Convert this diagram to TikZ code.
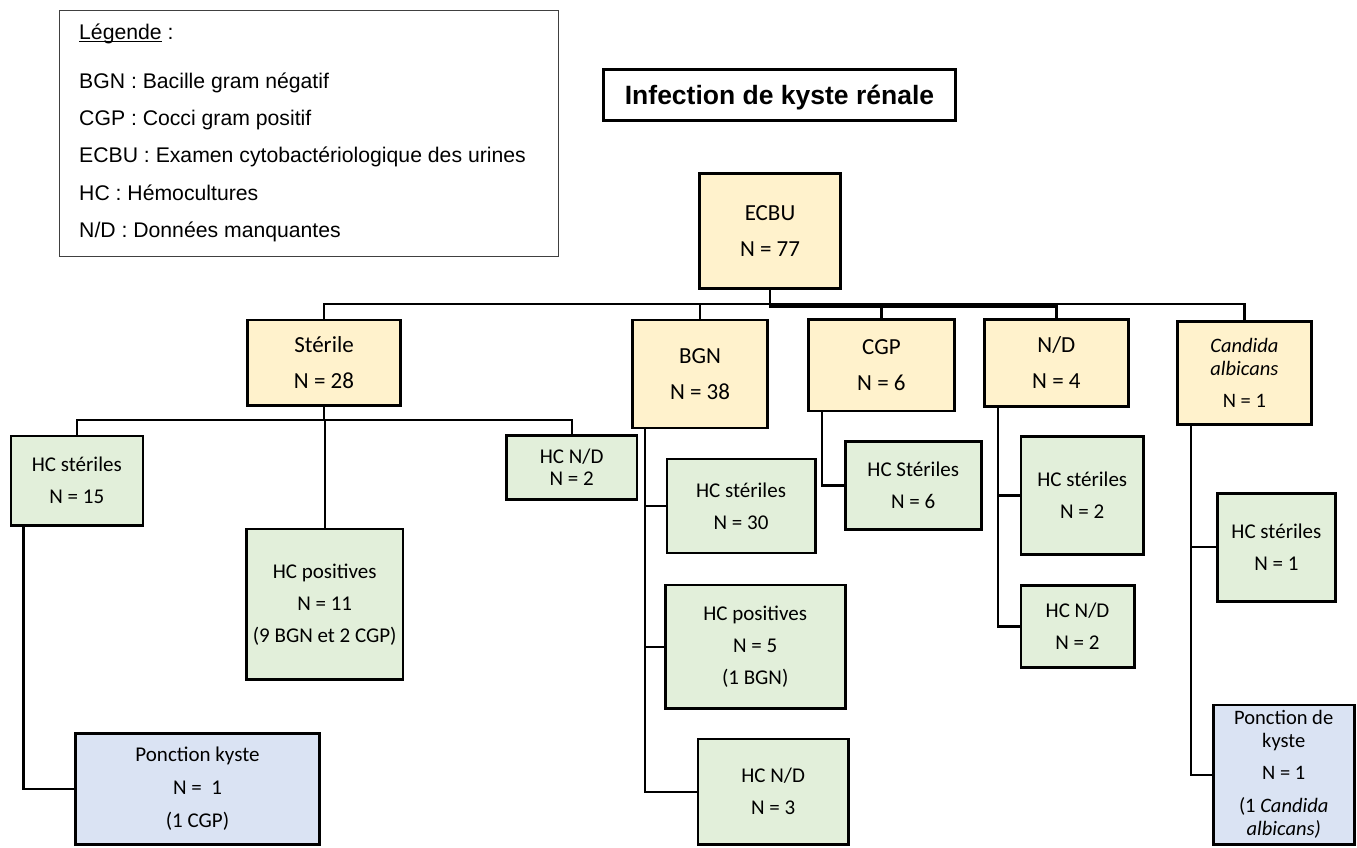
\documentclass[tikz,border=0pt]{standalone}
\usepackage{fontspec}
\setmainfont{Carlito}
\newfontfamily\arialf{Liberation Sans}
\definecolor{yelc}{HTML}{FFF2CC}
\definecolor{grnc}{HTML}{E2EFDA}
\definecolor{bluc}{HTML}{DAE3F3}
\definecolor{legc}{HTML}{404040}
\newcommand\myul[1]{\setbox0\hbox{#1}\rlap{\rule[-2.2pt]{\wd0}{1.3pt}}\box0\relax}
\begin{document}
\begin{tikzpicture}[x=1pt,y=-1pt,
  box/.style={draw=black, line width=2.6pt, inner sep=0pt, align=center, rectangle},
  sz/.style 2 args={minimum width=#1pt, minimum height=#2pt},
  yel/.style={box, fill=yelc, font=\fontsize{23}{36}\selectfont},
  grn/.style={box, fill=grnc, font=\fontsize{21}{32}\selectfont},
  blu/.style={box, fill=bluc, font=\fontsize{21}{33}\selectfont},
  leg/.style={inner sep=0pt, anchor=base west, font=\arialf\fontsize{21.2}{25}\selectfont},
  wire/.style={draw=black, line width=2.4pt}]
\useasboundingbox (0,0) rectangle (1357,848);

% legend
\node[draw=legc, line width=1.3pt, sz={499}{246}, inner sep=0pt] (legend) at (309,133.5) {};
\node[leg] (l1) at (79,40) {\myul{Légende} :};
\node[leg] (l2) at (79,89) {BGN : Bacille gram négatif};
\node[leg] (l3) at (79,126) {CGP : Cocci gram positif};
\node[leg] (l4) at (79,163) {ECBU : Examen cytobactériologique des urines};
\node[leg] (l5) at (79,200) {HC : Hémocultures};
\node[leg] (l6) at (79,237) {N/D : Données manquantes};

% title
\node[draw=black, line width=2.6pt, sz={352}{51}, inner sep=0pt, text depth=0pt,
      font=\arialf\bfseries\fontsize{26.5}{30}\selectfont] (title) at (779.5,95) {Infection de kyste rénale};

% level 0 and 1
\node[yel, sz={141}{115}] (ecbu) at (770,231) {ECBU\\N = 77};
\node[yel, sz={152.7}{85.4}] (sterile) at (324,362.5) {Stérile\\N = 28};
\node[yel, sz={135}{108}] (bgn) at (700,373.8) {BGN\\N = 38};
\node[yel, sz={145.7}{91.3}] (cgp) at (881.4,365.2) {CGP\\N = 6};
\node[yel, sz={144.3}{87}] (nd) at (1056.4,362.7) {N/D\\N = 4};
\node[yel, sz={133.7}{103}, font=\fontsize{20.5}{23}\selectfont] (candida) at (1244.4,373)
  {\textit{Candida}\\\textit{albicans}\\[9pt]N = 1};

% level 2
\node[grn, sz={132}{89.4}] (hcs15) at (76.8,480.5) {HC stériles\\N = 15};
\node[grn, sz={156.3}{150.7}] (hcp11) at (324.7,604.2) {HC positives\\N = 11\\(9 BGN et 2 CGP)};
\node[grn, sz={130.3}{63.7}, font=\fontsize{21}{22}\selectfont] (hcnd1) at (571.7,467.4) {HC N/D\\N = 2};
\node[blu, sz={244}{111.3}] (pk) at (197.5,788.9) {Ponction kyste\\N = \ 1\\(1 CGP)};

\node[grn, sz={148.4}{94}] (hcs30) at (741,505.8) {HC stériles\\N = 30};
\node[grn, sz={180}{123.7}] (hcp5) at (755.2,646.7) {HC positives\\N = 5\\(1 BGN)};
\node[grn, sz={150.7}{105.7}] (hcnd3) at (773.2,791.7) {HC N/D\\N = 3};

\node[grn, sz={136}{88}] (hcS6) at (913.2,485.5) {HC Stériles\\N = 6};

\node[grn, sz={122.7}{118}] (hcs2) at (1082.2,495.5) {HC stériles\\N = 2};
\node[grn, sz={113.4}{82}] (hcnd2) at (1077.5,626.5) {HC N/D\\N = 2};

\node[grn, sz={117.7}{108}] (hcs1) at (1276.4,547.2) {HC stériles\\N = 1};
\node[blu, sz={141}{139.7}, font=\fontsize{20.5}{23}\selectfont] (pdk) at (1283.7,774.7)
  {Ponction de\\kyste\\[9pt]N = 1\\[10pt](1 \textit{Candida}\\\textit{albicans)}};

% connectors
\coordinate (bus) at (0,304);
\coordinate (bus2) at (0,306.5);
\draw[wire] (sterile.north) -- (sterile.north |- bus) -- (candida.north |- bus) -- (candida.north);
\draw[wire] (ecbu.south) -- (ecbu.south |- bus2) -- (nd.north |- bus2);
\draw[wire] (bgn.north) -- (bgn.north |- bus);
\draw[wire] (cgp.north) -- (cgp.north |- bus);
\draw[wire] (nd.north) -- (nd.north |- bus);

\coordinate (sbus) at (0,420);
\draw[wire] (sterile.south) -- (sterile.south |- sbus);
\draw[wire] (hcs15.north) -- (hcs15.north |- sbus) -- (hcnd1.north |- sbus) -- (hcnd1.north);
\draw[wire] (hcp11.north |- sbus) -- (hcp11.north);

\coordinate (sx) at ([xshift=-53.5pt]hcs15.south);
\draw[wire] (sx) |- (pk.west);

\coordinate (bx) at ([xshift=-55pt]bgn.south);
\draw[wire] (bx) |- (hcnd3.west);
\draw[wire] (bx |- hcs30.west) -- (hcs30.west);
\draw[wire] (bx |- hcp5.west) -- (hcp5.west);

\coordinate (cx) at ([xshift=-59.7pt]cgp.south);
\draw[wire] (cx) |- (hcS6.west);

\coordinate (nx) at ([xshift=-58.7pt]nd.south);
\draw[wire] (nx) |- (hcnd2.west);
\draw[wire] (nx |- hcs2.west) -- (hcs2.west);

\coordinate (kx) at ([xshift=-53.7pt]candida.south);
\draw[wire] (kx) |- (pdk.west);
\draw[wire] (kx |- hcs1.west) -- (hcs1.west);
\end{tikzpicture}
\end{document}
